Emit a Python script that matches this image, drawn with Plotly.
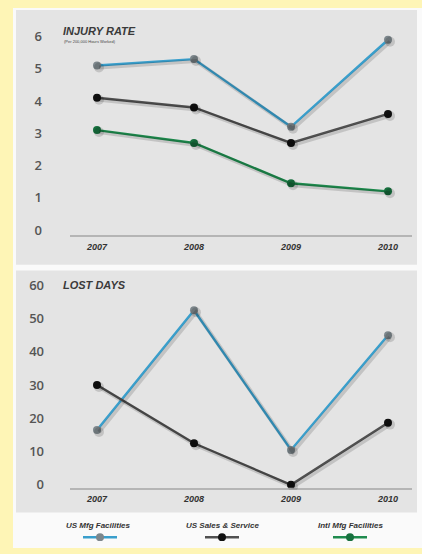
import plotly.graph_objects as go

# ---------------- data ----------------
years = [2007, 2008, 2009, 2010]
year_labels = ["2007", "2008", "2009", "2010"]
series_names = ["US Mfg Facilities", "US Sales & Service", "Intl Mfg Facilities"]

injury_us_mfg = [5.1, 5.3, 3.2, 5.9]
injury_us_sales = [4.1, 3.8, 2.7, 3.6]
injury_intl_mfg = [3.1, 2.7, 1.45, 1.2]

lost_us_mfg = [16.5, 52.5, 10.5, 45.0]
lost_us_sales = [30.0, 12.5, 0.0, 18.7]

injury_ticks = [0, 1, 2, 3, 4, 5, 6]
lost_ticks = [0, 10, 20, 30, 40, 50, 60]

# ---------------- styles ----------------
W, H = 422, 554
def fx(px):
    return px / W
def fy(py):
    return 1 - py / H

YELLOW = "#FEF5B6"
PANEL = "#E4E4E4"
line_colors = ["#3A9FCC", "#505050", "#1F8B4E"]
marker_colors = ["#7D878C", "#111111", "#17703E"]
SHADOW = "rgba(0,0,0,0.14)"

x_range = [2007 + (70 - 97) / 97, 2007 + (412 - 97) / 97]
top_range = [(232 - 237) / 32.67, (232 - 25) / 32.67]
bot_range = [(490 - 493) / 3.367, (490 - 280) / 3.367]

fig = go.Figure()

def add_series(y, idx, xa, ya, sxa, sya):
    # soft shadow
    fig.add_trace(go.Scatter(x=years, y=y, mode="lines+markers", xaxis=sxa, yaxis=sya,
                             line=dict(color=SHADOW, width=4),
                             marker=dict(color=SHADOW, size=10),
                             showlegend=False, hoverinfo="skip"))
    fig.add_trace(go.Scatter(x=years, y=y, mode="lines+markers", xaxis=xa, yaxis=ya,
                             name=series_names[idx],
                             line=dict(color=line_colors[idx], width=2.4),
                             marker=dict(color=marker_colors[idx], size=8),
                             showlegend=False))

top_series = [injury_us_mfg, injury_us_sales, injury_intl_mfg]
bot_series = [lost_us_mfg, lost_us_sales]
for i, s in enumerate(top_series):
    add_series(s, i, "x", "y", "x3", "y3")
for i, s in enumerate(bot_series):
    add_series(s, i, "x2", "y2", "x4", "y4")

tickfont_y = dict(family="Open Sans", size=13, color="#555555", weight=600)
tickfont_x = dict(family="Liberation Sans", size=9, color="#333333")

xcommon = dict(range=x_range, tickmode="array", tickvals=years,
               ticktext=["<b><i>" + t + "</i></b>" for t in year_labels],
               showgrid=False, zeroline=False, showline=True, linecolor="#B5B5B5", linewidth=1.5,
               ticks="", tickfont=tickfont_x, ticklabelstandoff=2)
hidden = dict(visible=False, showgrid=False, zeroline=False)

sdx = 2  # shadow offsets in px
sdy = 2

fig.update_layout(
    width=W, height=H, margin=dict(l=0, r=0, t=0, b=0),
    paper_bgcolor=YELLOW, plot_bgcolor="rgba(0,0,0,0)",
    showlegend=False,
    xaxis=dict(domain=[fx(70), fx(412)], anchor="y", **xcommon),
    yaxis=dict(domain=[fy(237), fy(25)], range=top_range, anchor="x", tickmode="array",
               tickvals=injury_ticks, showgrid=False, zeroline=False, showline=False,
               tickfont=tickfont_y, ticklabelstandoff=27),
    xaxis2=dict(domain=[fx(70), fx(412)], anchor="y2", **xcommon),
    yaxis2=dict(domain=[fy(493), fy(280)], range=bot_range, anchor="x2", tickmode="array",
                tickvals=lost_ticks, showgrid=False, zeroline=False, showline=False,
                tickfont=tickfont_y, ticklabelstandoff=25),
    xaxis3=dict(domain=[fx(70 + sdx), fx(412 + sdx)], range=x_range, anchor="y3", **hidden),
    yaxis3=dict(domain=[fy(237 + sdy), fy(25 + sdy)], range=top_range, anchor="x3", **hidden),
    xaxis4=dict(domain=[fx(70 + sdx), fx(412 + sdx)], range=x_range, anchor="y4", **hidden),
    yaxis4=dict(domain=[fy(493 + sdy), fy(280 + sdy)], range=bot_range, anchor="x4", **hidden),
)

# panels
shapes = [
    dict(type="rect", xref="paper", yref="paper", x0=fx(13), x1=fx(422), y0=fy(554), y1=fy(7),
         fillcolor="#FAFAFA", line=dict(width=0), layer="below"),
    dict(type="rect", xref="paper", yref="paper", x0=fx(16), x1=fx(417), y0=fy(267), y1=fy(9),
         fillcolor=PANEL, line=dict(width=0), layer="below"),
    dict(type="rect", xref="paper", yref="paper", x0=fx(16), x1=fx(417), y0=fy(518), y1=fy(273),
         fillcolor=PANEL, line=dict(width=0), layer="below"),
]

# legend keys (text above a short line with a dot)
legend_centers = [100, 222, 350]
legend_text_centers = [98, 223, 350]
annotations = []
for i, name in enumerate(series_names):
    c = legend_centers[i]
    shapes.append(dict(type="line", xref="paper", yref="paper", x0=fx(c - 17), x1=fx(c + 17),
                       y0=fy(543), y1=fy(543), line=dict(color=line_colors[i], width=2.5)))
    shapes.append(dict(type="circle", xref="paper", yref="paper", x0=fx(c - 4), x1=fx(c + 4),
                       y0=fy(547), y1=fy(539), fillcolor=marker_colors[i], line=dict(width=0)))
    annotations.append(dict(text="<b><i>" + name + "</i></b>", xref="paper", yref="paper",
                            x=fx(legend_text_centers[i]), y=fy(531), showarrow=False,
                            xanchor="center", yanchor="middle",
                            font=dict(family="Liberation Sans", size=8, color="#333333")))

annotations += [
    dict(text="<b><i>INJURY RATE</i></b>", xref="paper", yref="paper", x=fx(61), y=fy(30),
         xanchor="left", yanchor="middle", showarrow=False,
         font=dict(family="Liberation Sans", size=11, color="#3A3A3A")),
    dict(text="(Per 200,000 Hours Worked)", xref="paper", yref="paper", x=fx(62), y=fy(41),
         xanchor="left", yanchor="middle", showarrow=False,
         font=dict(family="Liberation Sans", size=4, color="#444444")),
    dict(text="<b><i>LOST DAYS</i></b>", xref="paper", yref="paper", x=fx(61), y=fy(288),
         xanchor="left", yanchor="middle", showarrow=False,
         font=dict(family="Liberation Sans", size=11, color="#3A3A3A")),
]

fig.update_layout(shapes=shapes, annotations=annotations)
fig.write_html("out.html")
